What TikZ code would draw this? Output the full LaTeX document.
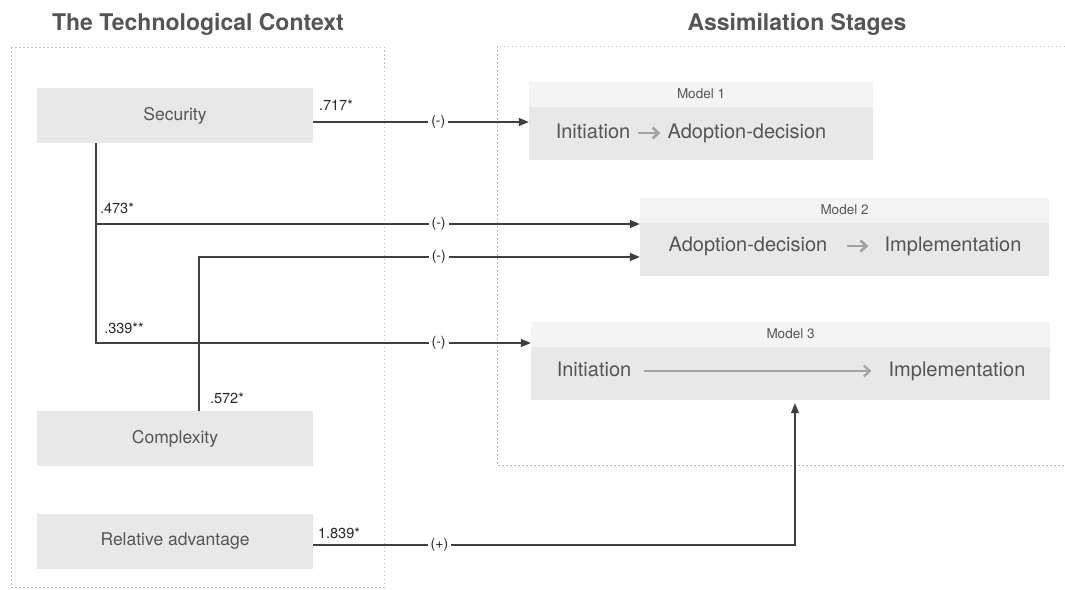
\documentclass[tikz,border=0pt]{standalone}
\usepackage{fontspec}
\setmainfont{TeX Gyre Heros}
\usepackage{tikz}
\usetikzlibrary{arrows.meta,positioning}
\definecolor{txtgray}{HTML}{555555}
\definecolor{linegray}{HTML}{3F3F3F}
\definecolor{boxgray}{HTML}{E8E8E8}
\definecolor{headgray}{HTML}{F4F4F4}
\definecolor{flowgray}{HTML}{A2A2A2}
\definecolor{dotgray}{HTML}{BDBDBD}

\begin{document}
\begin{tikzpicture}[x=1pt,y=-1pt,
   title/.style={text=txtgray, font=\fontsize{23}{26}\selectfont\bfseries},
   factor/.style={fill=boxgray, text=txtgray, minimum width=276pt, minimum height=55pt, inner sep=0pt, font=\fontsize{17.5}{20}\selectfont},
   body/.style={fill=boxgray, minimum height=53pt, inner sep=0pt},
   head/.style={fill=headgray, text=txtgray, minimum height=25pt, inner sep=0pt, font=\fontsize{13.5}{15}\selectfont},
   stage/.style={text=txtgray, inner sep=1pt, text height=14.5pt, text depth=4.5pt, font=\fontsize{20}{22}\selectfont},
   coef/.style={text=black!85, inner sep=0pt, font=\fontsize{14.5}{16}\selectfont},
   sign/.style={fill=white, text=black!85, inner sep=3pt, font=\fontsize{14}{16}\selectfont},
   link/.style={draw=linegray, line width=1.2pt},
   arr/.style={link, -{Triangle[length=10pt,width=8pt]}},
   flow/.style={draw=flowgray, line width=2.6pt, -{Straight Barb[length=6pt,width=11pt]}},
   frame/.style={draw=dotgray, line width=0.9pt, dash pattern=on 1.5pt off 2.5pt}]
   \useasboundingbox (0,0) rectangle (1065,589);

   % the two panels
   \node[title] (tctx) at (198,24) {The Technological Context};
   \node[title] (tstg) at (797,24) {Assimilation Stages};
   \draw[frame] (11,47) rectangle (384,587);
   \draw[frame] (1065,46) -- (497,46) -- (497,465) -- (1065,465);

   % technological factors
   \node[factor] (sec) at (175,115.5) {Security};
   \node[factor] (cx)  at (175,438.5) {Complexity};
   \node[factor] (ra)  at (175,541.5) {Relative advantage};

   % models
   \node[body, minimum width=344pt] (m1) at (701,133.5) {};
   \node[head, minimum width=344pt, above=0pt of m1] (m1h) {Model 1};
   \node[stage] (m1a) at (593,133) {Initiation};
   \node[stage] (m1b) at (747,133) {Adoption-decision};
   \draw[flow, shorten <=7pt, shorten >=6pt] (m1a) -- (m1b);

   \node[body, minimum width=409pt] (m2) at (844.5,249.5) {};
   \node[head, minimum width=409pt, above=0pt of m2] (m2h) {Model 2};
   \node[stage] (m2a) at (748,246) {Adoption-decision};
   \node[stage] (m2b) at (953,246) {Implementation};
   \draw[flow, shorten <=18pt, shorten >=15pt] (m2a) -- (m2b);

   \node[body, minimum width=519pt] (m3) at (790.5,373.5) {};
   \node[head, minimum width=519pt, above=0pt of m3] (m3h) {Model 3};
   \node[stage] (m3a) at (594,371) {Initiation};
   \node[stage] (m3b) at (957,371) {Implementation};
   \draw[flow, line width=2.2pt, shorten <=12pt, shorten >=16pt] (m3a) -- (m3b);

   % paths
   \coordinate (secout)  at ([yshift=-6.5pt]sec.east);
   \coordinate (secdown) at ([xshift=-79pt]sec.south);
   \coordinate (cxout)   at ([xshift=24pt]cx.north);
   \coordinate (raout)   at ([yshift=-3.5pt]ra.east);

   \draw[arr] (secout) -- node[sign,pos=.58]{(-)} (secout -| m1.west);
   \draw[arr] (secdown) |- node[sign,pos=.815]{(-)} ([yshift=25.5pt]m2.west);
   \draw[arr] (secdown) |- node[sign,pos=.894]{(-)} ([yshift=30.5pt]m3.west);
   \draw[arr] (cxout) |- node[sign,pos=.772]{(-)} ([yshift=-7.5pt]m2.west);
   \draw[arr] (raout) -| node[sign,pos=.131]{(+)} ([xshift=4.5pt,yshift=-3pt]m3.south);

   % coefficients
   \node[coef] (k1) at (336,105) {.717*};
   \node[coef] (k2) at (117,208) {.473*};
   \node[coef] (k3) at (124,328) {.339**};
   \node[coef] (k4) at (227,398) {.572*};
   \node[coef] (k5) at (339,533) {1.839*};
\end{tikzpicture}
\end{document}
